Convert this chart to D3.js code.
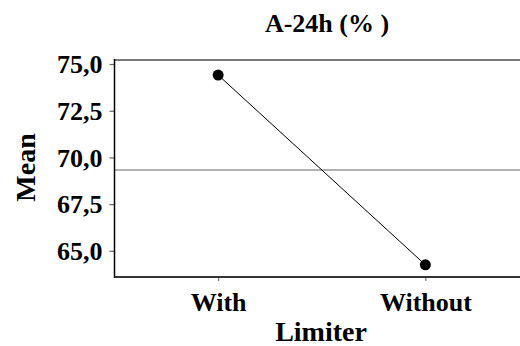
<!DOCTYPE html>
<html>
<head>
<meta charset="utf-8">
<script src="https://cdn.jsdelivr.net/npm/d3@7"></script>
<style>
  html, body { margin: 0; padding: 0; background: #fff; }
  svg { display: block; }
  text { font-family: "Liberation Serif", "Times New Roman", serif; font-weight: bold; fill: #000; }
</style>
</head>
<body>
<svg id="chart" width="520" height="346"></svg>
<script>
// Main effects plot: mean of A-24h (%) by limiter level
const categories = ["With", "Without"];
const means = [74.41, 64.25];
const yTicks = [65.0, 67.5, 70.0, 72.5, 75.0];
const grandMean = d3.mean(means);

const svg = d3.select("#chart");
const W = 520, H = 346;
const plotLeft = 114.5, plotTop = 60, plotBottom = 277, rightExt = 529;

const x = d3.scalePoint().domain(categories).range([plotLeft, rightExt]).padding(0.5);
const y = d3.scaleLinear().domain([63.6, 75.215]).range([plotBottom, plotTop]);

const fmt = v => d3.format(".1f")(v).replace(".", ",");

// frame top line
svg.append("line")
  .attr("x1", plotLeft).attr("x2", W).attr("y1", y(75.215)).attr("y2", y(75.215))
  .attr("stroke", "#7a7a7a").attr("stroke-width", 2);

// reference line at overall mean
svg.append("line")
  .attr("x1", plotLeft).attr("x2", W).attr("y1", y(grandMean)).attr("y2", y(grandMean))
  .attr("stroke", "#999").attr("stroke-width", 1.5);

// y axis
const yAxis = svg.append("g").attr("transform", `translate(${plotLeft},0)`)
  .call(d3.axisLeft(y).tickValues(yTicks).tickFormat(fmt).tickSize(5).tickPadding(7));
yAxis.select(".domain").remove();
yAxis.selectAll(".tick line").attr("stroke", "#666").attr("stroke-width", 1.2);
yAxis.selectAll(".tick text")
  .attr("font-family", "Liberation Serif, serif").attr("font-weight", "bold")
  .attr("font-size", 26).attr("fill", "#000").attr("dy", "0.34em");
svg.append("line")
  .attr("x1", plotLeft).attr("x2", plotLeft).attr("y1", plotTop - 1).attr("y2", plotBottom + 1)
  .attr("stroke", "#000").attr("stroke-width", 1.5);

// x axis
const xAxis = svg.append("g").attr("transform", `translate(0,${plotBottom})`)
  .call(d3.axisBottom(x).tickSize(4).tickPadding(12));
xAxis.select(".domain").remove();
xAxis.selectAll(".tick line").attr("stroke", "#777").attr("stroke-width", 1.2);
xAxis.selectAll(".tick text")
  .attr("font-family", "Liberation Serif, serif").attr("font-weight", "bold")
  .attr("font-size", 26).attr("fill", "#000");
svg.append("line")
  .attr("x1", plotLeft).attr("x2", W).attr("y1", plotBottom).attr("y2", plotBottom)
  .attr("stroke", "#333").attr("stroke-width", 2);

// mean line and points
const line = d3.line().x((d, i) => x(categories[i])).y(d => y(d));
svg.append("path").datum(means)
  .attr("d", line).attr("fill", "none").attr("stroke", "#000").attr("stroke-width", 1);
svg.selectAll("circle.pt").data(means).join("circle")
  .attr("class", "pt")
  .attr("cx", (d, i) => x(categories[i])).attr("cy", d => y(d))
  .attr("r", 5.5).attr("fill", "#000");

// titles
svg.append("text").attr("x", 327).attr("y", 32).attr("text-anchor", "middle")
  .attr("font-size", 26).text("A-24h (% )");
svg.append("text").attr("x", 321).attr("y", 341).attr("text-anchor", "middle")
  .attr("font-size", 28).text("Limiter");
svg.append("text").attr("transform", "translate(35,167.5) rotate(-90)")
  .attr("text-anchor", "middle").attr("font-size", 28).text("Mean");
</script>
</body>
</html>
